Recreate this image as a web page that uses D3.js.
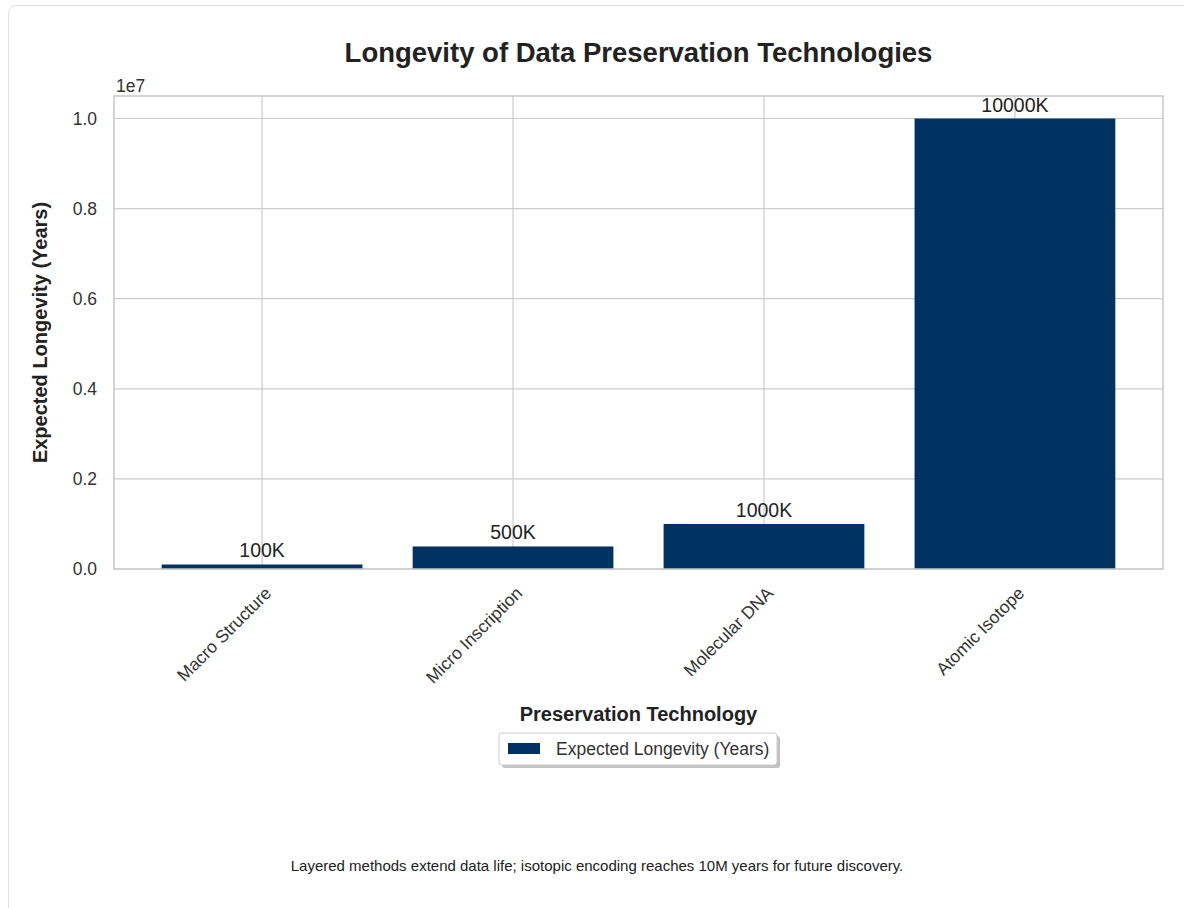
<!DOCTYPE html>
<html><head><meta charset="utf-8">
<script src="https://cdn.jsdelivr.net/npm/d3@7"></script>
<style>
body{margin:0;background:#fff;font-family:"Liberation Sans",Arial,sans-serif;}
.card{position:absolute;left:8px;top:5px;width:1190px;height:920px;border:1px solid #e2e2e2;border-radius:8px;background:#fff;}
</style></head>
<body>
<div class="card"></div>
<svg id="chart" width="1184" height="908" style="position:absolute;left:0;top:0;font-family:'Liberation Sans',Arial,sans-serif"></svg>
<script>
const categories = ["Macro Structure","Micro Inscription","Molecular DNA","Atomic Isotope"];
const values = [100000, 500000, 1000000, 10000000];
const valueLabels = ["100K","500K","1000K","10000K"];
const yTicks = [0, 0.2e7, 0.4e7, 0.6e7, 0.8e7, 1.0e7];
const seriesName = "Expected Longevity (Years)";
const barColor = "#003262";

const svg = d3.select("#chart");
const L=114,R=1163,T=96,B=569;
const x = d3.scaleLinear().domain([-0.59, 3.59]).range([L,R]);
const y = d3.scaleLinear().domain([0, 1.05e7]).range([B,T]);
const grid = "#cccccc";

// grid
svg.append("g").selectAll("line").data(yTicks).join("line")
  .attr("x1",L).attr("x2",R).attr("y1",d=>y(d)).attr("y2",d=>y(d))
  .attr("stroke",grid).attr("stroke-width",1.2);
svg.append("g").selectAll("line").data(categories).join("line")
  .attr("x1",(d,i)=>x(i)).attr("x2",(d,i)=>x(i)).attr("y1",T).attr("y2",B)
  .attr("stroke",grid).attr("stroke-width",1.2);

// bars
svg.append("g").selectAll("rect").data(values).join("rect")
  .attr("x",(d,i)=>x(i-0.4)).attr("width",(d,i)=>x(i+0.4)-x(i-0.4))
  .attr("y",d=>y(d)).attr("height",d=>y(0)-y(d)).attr("fill",barColor);

// value labels
svg.append("g").selectAll("text").data(values).join("text")
  .attr("x",(d,i)=>x(i)).attr("y",d=>y(d)-7)
  .attr("text-anchor","middle").attr("font-size",19.5).attr("fill","#222")
  .text((d,i)=>valueLabels[i]);

// spines
svg.append("rect").attr("x",L).attr("y",T).attr("width",R-L).attr("height",B-T)
  .attr("fill","none").attr("stroke","#c8c8c8").attr("stroke-width",1.5);

// y axis tick labels
const yAxis = d3.axisLeft(y).tickValues(yTicks).tickSize(0).tickPadding(17)
  .tickFormat(d=>(d/1e7).toFixed(1));
const ga = svg.append("g").attr("transform",`translate(${L},0)`).call(yAxis);
ga.select(".domain").remove();
ga.selectAll("text").attr("font-size",17.5).attr("fill","#333").attr("font-family","Liberation Sans, Arial, sans-serif");
svg.append("text").attr("x",L+2).attr("y",T-4).attr("font-size",17.5).attr("fill","#333").text("1e7");

// x tick labels
svg.append("g").selectAll("text").data(categories).join("text")
  .attr("transform",(d,i)=>`translate(${x(i)+6},${B+21}) rotate(-45)`)
  .attr("text-anchor","end").attr("dy","0.35em").attr("font-size",17.5).attr("fill","#333").text(d=>d);

// titles
svg.append("text").attr("x",(L+R)/2).attr("y",62).attr("text-anchor","middle")
  .attr("font-size",27.5).attr("font-weight","bold").attr("fill","#222")
  .text("Longevity of Data Preservation Technologies");
svg.append("text").attr("x",(L+R)/2).attr("y",721).attr("text-anchor","middle")
  .attr("font-size",20).attr("font-weight","bold").attr("fill","#222")
  .text("Preservation Technology");
svg.append("text").attr("transform",`translate(47,${(T+B)/2}) rotate(-90)`).attr("text-anchor","middle")
  .attr("font-size",20).attr("font-weight","bold").attr("fill","#222")
  .text("Expected Longevity (Years)");

// legend
const lg = svg.append("g");
lg.append("rect").attr("x",502).attr("y",736).attr("width",278).attr("height",32).attr("rx",3)
  .attr("fill","#999").attr("opacity",0.6);
lg.append("rect").attr("x",499).attr("y",733).attr("width",278).attr("height",32).attr("rx",3)
  .attr("fill","#fff").attr("stroke","#ccc").attr("stroke-width",1);
lg.append("rect").attr("x",508).attr("y",743).attr("width",32).attr("height",11).attr("fill",barColor);
lg.append("text").attr("x",556).attr("y",755).attr("font-size",17.5).attr("fill","#333").text(seriesName);

// footnote
svg.append("text").attr("x",597).attr("y",871).attr("text-anchor","middle")
  .attr("font-size",15).attr("fill","#222")
  .text("Layered methods extend data life; isotopic encoding reaches 10M years for future discovery.");
</script>
</body></html>
